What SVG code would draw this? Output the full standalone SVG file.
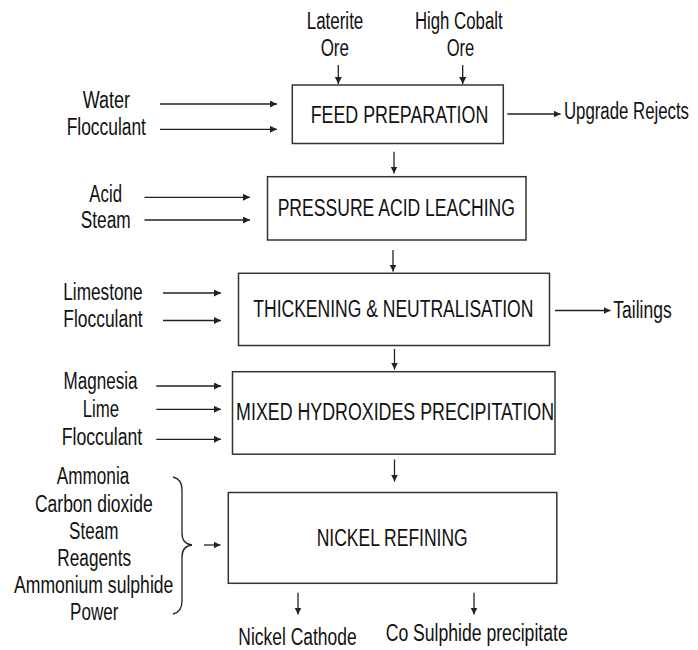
<svg xmlns="http://www.w3.org/2000/svg" width="698" height="650" viewBox="0 0 698 650">
<style>
text{font-family:"Liberation Sans",Arial,sans-serif;font-size:23px;fill:#111;}
.m{text-anchor:middle;}
.box{fill:#fff;stroke:#333;stroke-width:1.5;}
.ln{fill:none;stroke:#222;stroke-width:1.3;}
</style>
<defs>
<marker id="ah" markerUnits="userSpaceOnUse" markerWidth="10" markerHeight="10" refX="7" refY="3.5" orient="auto">
<path d="M0,0 L7,3.5 L0,7 Z" fill="#222"/>
</marker>
</defs>
<rect width="698" height="650" fill="#fff"/>

<g id="inputs-feed">
<text class="m" x="335" y="29.3" textLength="56.6" lengthAdjust="spacingAndGlyphs">Laterite</text>
<text class="m" x="334.8" y="56" textLength="28.3" lengthAdjust="spacingAndGlyphs">Ore</text>
<text class="m" x="458.8" y="29.3" textLength="87.7" lengthAdjust="spacingAndGlyphs">High Cobalt</text>
<text class="m" x="460.5" y="56" textLength="27.6" lengthAdjust="spacingAndGlyphs">Ore</text>
<text class="m" x="106.3" y="108.3" textLength="47.3" lengthAdjust="spacingAndGlyphs">Water</text>
<text class="m" x="106.3" y="135" textLength="79.3" lengthAdjust="spacingAndGlyphs">Flocculant</text>
<text transform="translate(564,119.3) scale(0.73,1)">Upgrade Rejects</text>
</g>

<g id="feed-preparation">
<rect class="box" x="292.3" y="85" width="211" height="58.5"/>
<text class="m" x="399.5" y="122.7" textLength="177.6" lengthAdjust="spacingAndGlyphs">FEED PREPARATION</text>
</g>

<g id="inputs-pal">
<text class="m" x="105.7" y="201.7" textLength="32.7" lengthAdjust="spacingAndGlyphs">Acid</text>
<text class="m" x="105.7" y="228" textLength="50" lengthAdjust="spacingAndGlyphs">Steam</text>
</g>

<g id="pressure-acid-leaching">
<rect class="box" x="267.5" y="176.7" width="258.5" height="63.3"/>
<text class="m" x="396.3" y="215.7" textLength="237.3" lengthAdjust="spacingAndGlyphs">PRESSURE ACID LEACHING</text>
</g>

<g id="inputs-thickening">
<text class="m" x="103" y="300" textLength="79.4" lengthAdjust="spacingAndGlyphs">Limestone</text>
<text class="m" x="103" y="327.3" textLength="79.4" lengthAdjust="spacingAndGlyphs">Flocculant</text>
<text x="613.3" y="318" textLength="58.4" lengthAdjust="spacingAndGlyphs">Tailings</text>
</g>

<g id="thickening-neutralisation">
<rect class="box" x="238.5" y="273.3" width="311" height="72.2"/>
<text class="m" x="393.3" y="316.7" textLength="280" lengthAdjust="spacingAndGlyphs">THICKENING &amp; NEUTRALISATION</text>
</g>

<g id="inputs-mhp">
<text class="m" x="100.5" y="389.3" textLength="74" lengthAdjust="spacingAndGlyphs">Magnesia</text>
<text class="m" x="100.8" y="416.7" textLength="36.3" lengthAdjust="spacingAndGlyphs">Lime</text>
<text class="m" x="102" y="445" textLength="80.6" lengthAdjust="spacingAndGlyphs">Flocculant</text>
</g>

<g id="mixed-hydroxides-precipitation">
<rect class="box" x="232.5" y="371.7" width="322.5" height="82.5"/>
<text class="m" x="395.1" y="420" textLength="318" lengthAdjust="spacingAndGlyphs">MIXED HYDROXIDES PRECIPITATION</text>
</g>

<g id="inputs-refining">
<text class="m" x="93" y="484.3" textLength="72.6" lengthAdjust="spacingAndGlyphs">Ammonia</text>
<text class="m" x="93.8" y="511.7" textLength="117.7" lengthAdjust="spacingAndGlyphs">Carbon dioxide</text>
<text class="m" x="93.7" y="539" textLength="49.3" lengthAdjust="spacingAndGlyphs">Steam</text>
<text class="m" x="94.2" y="565.5" textLength="73.7" lengthAdjust="spacingAndGlyphs">Reagents</text>
<text class="m" x="93.7" y="592.5" textLength="159.3" lengthAdjust="spacingAndGlyphs">Ammonium sulphide</text>
<text class="m" x="94.2" y="619.5" textLength="48.3" lengthAdjust="spacingAndGlyphs">Power</text>
<path class="ln" d="M173,477 Q182,479 182,490 L182,533 Q182,544 192,545 Q182,546 182,557 L182,601 Q182,612 173,614"/>
</g>

<g id="nickel-refining">
<rect class="box" x="228.3" y="492.5" width="328.5" height="90.8"/>
<text class="m" x="392.2" y="546" textLength="151" lengthAdjust="spacingAndGlyphs">NICKEL REFINING</text>
</g>

<g id="outputs">
<text class="m" x="297.5" y="645" textLength="118.4" lengthAdjust="spacingAndGlyphs">Nickel Cathode</text>
<text class="m" x="476.7" y="641" textLength="182" lengthAdjust="spacingAndGlyphs">Co Sulphide precipitate</text>
</g>

<g id="connectors" class="ln" marker-end="url(#ah)">
<line x1="338.3" y1="65" x2="338.3" y2="84"/>
<line x1="462.7" y1="65" x2="462.7" y2="84"/>
<line x1="160" y1="104" x2="277" y2="104"/>
<line x1="160" y1="129.3" x2="277" y2="129.3"/>
<line x1="507.3" y1="114" x2="560.5" y2="114"/>
<line x1="394" y1="151.7" x2="394" y2="173.5"/>
<line x1="144.5" y1="197.3" x2="250" y2="197.3"/>
<line x1="144.5" y1="220" x2="250" y2="220"/>
<line x1="393" y1="250" x2="393" y2="271.5"/>
<line x1="163" y1="293" x2="221" y2="293"/>
<line x1="163" y1="320.5" x2="221" y2="320.5"/>
<line x1="555" y1="310.5" x2="610.5" y2="310.5"/>
<line x1="394.5" y1="349" x2="394.5" y2="369.5"/>
<line x1="156.3" y1="386" x2="221" y2="386"/>
<line x1="156.3" y1="409.3" x2="221" y2="409.3"/>
<line x1="156.3" y1="439.3" x2="221" y2="439.3"/>
<line x1="394.5" y1="459.5" x2="394.5" y2="481.5"/>
<line x1="204" y1="545" x2="220.5" y2="545"/>
<line x1="298" y1="592.7" x2="298" y2="614.5"/>
<line x1="474" y1="592.7" x2="474" y2="614.5"/>
</g>
</svg>
